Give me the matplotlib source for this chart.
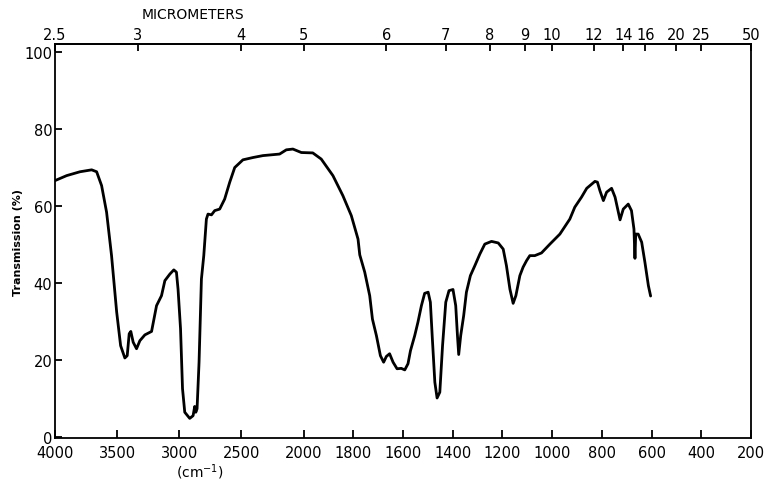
import numpy as np
import matplotlib as mpl
mpl.use("Agg")
import matplotlib.pyplot as plt

# IR spectrum trace, wavenumber (cm-1) vs transmission (%)
wavenumber = [4000, 3906, 3799, 3705, 3665, 3625, 3585, 3545, 3504, 3472,
              3438, 3419, 3403, 3390, 3371, 3344, 3317, 3277, 3223, 3183,
              3143, 3116, 3076, 3044, 3023, 3010, 2990, 2974, 2956, 2916,
              2889, 2876, 2867, 2857, 2841, 2822, 2803, 2782, 2769, 2741,
              2715, 2675, 2635, 2594, 2554, 2488, 2407, 2327, 2193, 2139,
              2086, 2018, 1963, 1929, 1882, 1842, 1808, 1781, 1774, 1754,
              1734, 1723, 1707, 1691, 1678, 1667, 1654, 1640, 1624, 1607,
              1593, 1580, 1570, 1553, 1540, 1526, 1513, 1499, 1490, 1482,
              1472, 1463, 1452, 1441, 1428, 1415, 1399, 1388, 1381, 1376,
              1368, 1356, 1345, 1329, 1311, 1291, 1271, 1244, 1217, 1197,
              1184, 1170, 1157, 1146, 1130, 1117, 1103, 1090, 1070, 1043,
              1009, 969, 929, 909, 882, 861, 841, 828, 818, 808,
              794, 781, 761, 747, 727, 714, 694, 681, 671, 667,
              664, 654, 640, 627, 613, 604]
transmission = [66.6, 67.9, 68.9, 69.4, 68.9, 65.3, 58.4, 47.1, 32.5, 23.7,
                20.5, 21.1, 26.8, 27.4, 24.6, 22.9, 25.0, 26.5, 27.4, 34.1,
                36.7, 40.6, 42.3, 43.4, 42.8, 38.4, 28.1, 12.5, 6.4, 4.8,
                5.5, 7.9, 6.4, 7.3, 19.4, 41.0, 47.1, 56.6, 57.9, 57.7,
                58.8, 59.2, 61.8, 66.2, 70.0, 72.0, 72.6, 73.1, 73.5, 74.6,
                74.8, 73.9, 73.8, 72.2, 67.9, 62.7, 57.5, 51.4, 47.3, 42.8,
                36.7, 30.6, 26.3, 21.1, 19.4, 20.9, 21.6, 19.4, 17.7, 17.8,
                17.4, 19.0, 22.4, 26.3, 29.8, 34.1, 37.3, 37.6, 35.0, 25.5,
                14.2, 10.1, 11.6, 23.7, 35.0, 38.0, 38.3, 34.1, 26.3, 21.4,
                26.3, 31.5, 37.6, 41.9, 44.5, 47.5, 50.1, 50.8, 50.4, 48.8,
                44.5, 38.4, 34.7, 36.7, 41.9, 44.1, 45.8, 47.1, 47.1, 47.8,
                50.1, 52.7, 56.6, 59.7, 62.3, 64.6, 65.7, 66.4, 66.2, 64.0,
                61.4, 63.6, 64.6, 62.3, 56.4, 59.2, 60.5, 58.8, 54.0, 46.4,
                52.7, 52.7, 50.6, 45.4, 39.3, 36.6]

cm_ticks = [4000, 3500, 3000, 2500, 2000, 1800, 1600, 1400, 1200, 1000, 800, 600, 400, 200]
um_ticks = [2.5, 3, 4, 5, 6, 7, 8, 9, 10, 12, 14, 16, 20, 25, 50]
um_labels = ["2.5", "3", "4", "5", "6", "7", "8", "9", "10", "12", "14", "16", "20", "25", "50"]
y_ticks = [0, 20, 40, 60, 80, 100]


# chart paper: scale doubles below 2000 cm-1
def fwd(x):
    x = np.asarray(x, dtype=float)
    return np.where(x >= 2000, x, 2 * x - 2000)


def inv(u):
    u = np.asarray(u, dtype=float)
    return np.where(u >= 2000, u, (u + 2000) / 2)


plt.rcParams["font.family"] = "DejaVu Sans"
fig = plt.figure(figsize=(7.67, 4.81), dpi=100)
ax = fig.add_axes([0.0717, 0.0873, 0.9075, 0.8191])

ax.plot(wavenumber, transmission, color="black", lw=2.0,
        solid_joinstyle="round", solid_capstyle="round")

ax.set_xscale("function", functions=(fwd, inv))
ax.set_xlim(4000, 200)
ax.set_ylim(-0.3, 102.1)
ax.set_xticks(cm_ticks)
ax.set_xticklabels([str(t) for t in cm_ticks])
ax.xaxis.set_minor_locator(mpl.ticker.NullLocator())
ax.set_yticks(y_ticks)
ax.set_yticklabels([str(t) for t in y_ticks])
ax.tick_params(axis="x", direction="in", length=6, width=1.3, pad=5, labelsize=10.5)
ax.tick_params(axis="y", direction="in", length=5, width=1.3, pad=2, labelsize=10.5)
for s in ax.spines.values():
    s.set_linewidth(1.3)
ax.set_ylabel("Transmission (%)", fontsize=8, fontweight="bold", labelpad=1)

# micrometer scale along the top
ax2 = ax.twiny()
ax2.set_xscale("function", functions=(fwd, inv))
ax2.set_xlim(4000, 200)
ax2.set_xticks([10000 / m for m in um_ticks])
ax2.set_xticklabels(um_labels)
ax2.xaxis.set_minor_locator(mpl.ticker.NullLocator())
ax2.tick_params(axis="x", direction="in", length=5, width=1.3, pad=1.5, labelsize=10.5)
for name in ["left", "right", "bottom"]:
    ax2.spines[name].set_visible(False)
ax2.spines["top"].set_linewidth(1.3)

fig.text(193 / 767, 1 - 15 / 481, "MICROMETERS", fontsize=10, ha="center", va="center")
fig.text(200 / 767, 1 - 472 / 481, "(cm$^{-1}$)", fontsize=10, ha="center", va="center")

fig.savefig("out.png", dpi=100)
